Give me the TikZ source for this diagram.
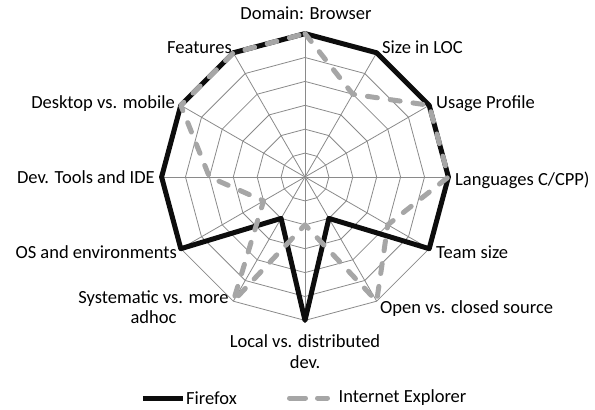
\documentclass[tikz,border=0pt]{standalone}
\usepackage{fontspec}
\setmainfont{Carlito}
\usepackage{tikz}
\usetikzlibrary{positioning}
\definecolor{iegray}{HTML}{A6A6A6}
\definecolor{gridgray}{HTML}{8A8A8A}

\begin{document}
\begin{tikzpicture}[x=1pt, y=1pt,
    font=\fontsize{18.5}{20.5}\selectfont,
    gridline/.style={draw=gridgray, line width=0.8pt},
    ffline/.style={draw=black!95, line width=5pt, line join=round},
    ieline/.style={draw=iegray, line width=5pt, line cap=round, line join=round, dash pattern=on 10pt off 13pt},
    axlabel/.style={inner sep=0pt}]
  \useasboundingbox (-305,-233) rectangle (290,177);

  % web
  \coordinate (ctr) at (0,0);
  \foreach \a in {0,...,11}
    \coordinate (ax\a) at ({90-30*\a}:143.4);
  \foreach \r in {1,...,6}
    \draw[gridline] (90:{\r*23.9}) \foreach \a in {1,...,11} { -- ({90-30*\a}:{\r*23.9}) } -- cycle;
  \foreach \a in {0,...,11}
    \draw[gridline] (ctr) -- (ax\a);

  % series
  \foreach \v [count=\i from 0] in {6,6,6,6,6,2,6,2,6,6,6,6}
    \coordinate (ff\i) at ({90-30*\i}:{\v*23.9});
  \foreach \v [count=\i from 0] in {6,4,6,6,4,6,2,6,2,4,6,6}
    \coordinate (ie\i) at ({90-30*\i}:{\v*23.9});
  \draw[ffline] (ff0) -- (ff1) -- (ff2) -- (ff3) -- (ff4) -- (ff5) -- (ff6)
    -- (ff7) -- (ff8) -- (ff9) -- (ff10) -- (ff11) -- cycle;
  \draw[ieline] (ie0) -- (ie1) -- (ie2) -- (ie3) -- (ie4) -- (ie5) -- (ie6)
    -- (ie7) -- (ie8) -- (ie9) -- (ie10) -- (ie11) -- cycle;

  % axis labels
  \node[axlabel, anchor=base]      (dom)  at (1,157.5)     {Domain: Browser};
  \node[axlabel, anchor=base west] (loc)  at (77,123.5)    {Size in LOC};
  \node[axlabel, anchor=base west] (use)  at (131,68.5)    {Usage Profile};
  \node[axlabel, anchor=base west] (lang) at (150,-8.5)    {Languages C/CPP)};
  \node[axlabel, anchor=base west] (team) at (131,-81.5)   {Team size};
  \node[axlabel, anchor=base west] (open) at (75,-136.5)   {Open vs. closed source};
  \node[axlabel, anchor=north, align=center] (dist) at (0,-157.5)
    {Local vs. distributed\\dev.};
  \node[axlabel, anchor=north, align=center] (sys)  at (-151.5,-113.5)
    {Systematic vs. more\\adhoc};
  \node[axlabel, anchor=base east] (os)   at (-128,-81.5)  {OS and environments};
  \node[axlabel, anchor=base east] (ide)  at (-150,-6.5)   {Dev. Tools and IDE};
  \node[axlabel, anchor=base east] (mob)  at (-130,68.5)   {Desktop vs. mobile};
  \node[axlabel, anchor=base east] (feat) at (-73,123.5)   {Features};

  % legend
  \coordinate (ffa) at (-162,-221);
  \coordinate (ffb) at (-122,-221);
  \coordinate (iea) at (-15.5,-221);
  \coordinate (ieb) at (22.5,-221);
  \node[axlabel, right=3pt of ffb] (ffkey) {Firefox};
  \node[axlabel, right=11pt of ieb] (iekey) {Internet Explorer};
  \draw[ffline] (ffa) -- (ffb);
  \draw[ieline, dash pattern=on 16pt off 12pt] (iea) -- (ieb);
\end{tikzpicture}
\end{document}
